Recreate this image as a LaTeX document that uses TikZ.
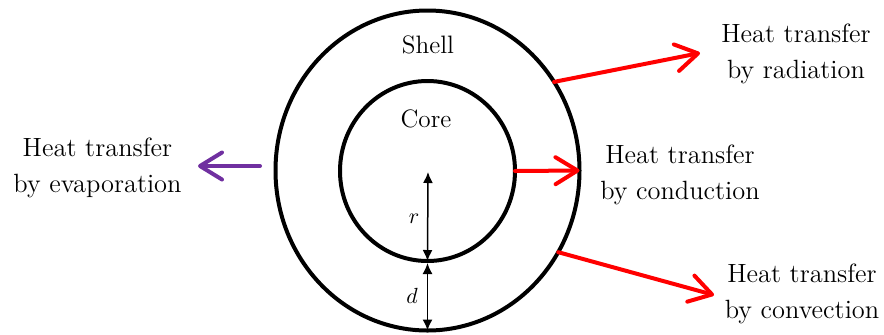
\documentclass[tikz,border=0pt]{standalone}
\usetikzlibrary{shapes.geometric,arrows.meta}
\definecolor{evap}{HTML}{7030A0}
\begin{document}
\begin{tikzpicture}[x=0.5pt,y=-0.5pt,
  ring/.style={draw=black,line width=2pt,ellipse,inner sep=0pt,outer sep=0pt},
  lbl/.style={align=center,inner sep=0pt,font=\fontsize{13.2}{18}\selectfont},
  parttxt/.style={inner sep=0pt,anchor=base,font=\fontsize{12.6}{15}\selectfont},
  heat/.style={line width=2pt,line cap=round,-{Straight Barb[length=11pt,width=13.5pt,line cap=round,round]}},
  dimarrow/.style={line width=0.75pt,{Latex[length=5.5pt,width=5pt]}-{Latex[length=5.5pt,width=5pt]}},
  vartxt/.style={inner sep=0pt,font=\fontsize{10.5}{12}\selectfont}]
\useasboundingbox (0,0) rectangle (884,334);
\node[ring,minimum width=152pt,minimum height=160pt] (shell) at (427.5,170.5) {};
\node[ring,minimum width=87.5pt,minimum height=90pt] (core) at (427.5,171) {};
\coordinate (ctr) at (428,172);
\node[parttxt] (shelltxt) at (428,53) {Shell};
\node[parttxt] (coretxt) at (426,127) {Core};
% dimension arrows
\draw[dimarrow] (ctr) -- (core.south);
\draw[dimarrow] ([yshift=-1pt]core.south) -- (shell.south);
\node[vartxt] (rlbl) at (414,219) {$r$};
\node[vartxt] (dlbl) at (412,296) {$d$};
% labels
\node[lbl] (rad) at (796,54) {Heat transfer\\by radiation};
\node[lbl] (cond) at (680,174.5) {Heat transfer\\by conduction};
\node[lbl] (conv) at (802,294) {Heat transfer\\by convection};
\node[lbl] (evap) at (97.5,168) {Heat transfer\\by evaporation};
% heat arrows
\coordinate (radend) at (700,53);
\coordinate (convend) at (714,295);
\coordinate (evapstart) at (260,166);
\coordinate (evapend) at (198,166);
\draw[heat,red] (shell.35.7) -- (radend);
\draw[heat,red] (core.east) -- (shell.east);
\draw[heat,red] (shell.-32.8) -- (convend);
\draw[heat,evap] (evapstart) -- (evapend);
\end{tikzpicture}
\end{document}
